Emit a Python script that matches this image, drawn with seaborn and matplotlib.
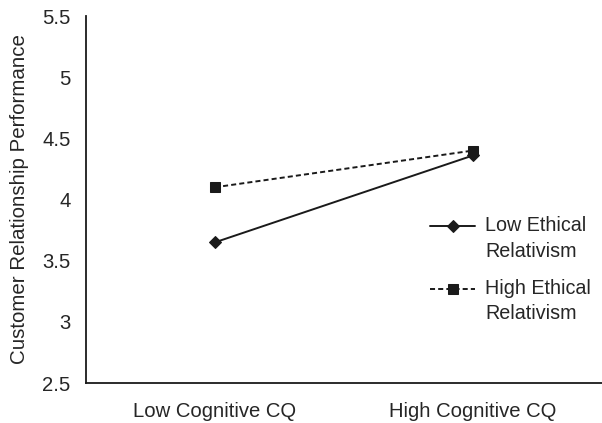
import matplotlib
matplotlib.use("Agg")
import matplotlib.pyplot as plt
from matplotlib.legend_handler import HandlerLine2D
import seaborn as sns
import pandas as pd

categories = ["Low Cognitive CQ", "High Cognitive CQ"]
series_names = ["Low Ethical\nRelativism", "High Ethical\nRelativism"]
low_ethical = [3.65, 4.36]
high_ethical = [4.10, 4.40]
y_ticks = [2.5, 3, 3.5, 4, 4.5, 5, 5.5]
y_tick_labels = ["2.5", "3", "3.5", "4", "4.5", "5", "5.5"]

sns.set_style("white")
plt.rcParams["font.family"] = ["Liberation Sans", "DejaVu Sans"]


class TopAlignedLine(HandlerLine2D):
    def __init__(self, offset_pt, **kw):
        super().__init__(**kw)
        self.offset_pt = offset_pt

    def create_artists(self, legend, orig_handle, xdescent, ydescent,
                       width, height, fontsize, trans):
        arts = super().create_artists(legend, orig_handle, xdescent, ydescent,
                                      width, height, fontsize, trans)
        for a in arts:
            a.set_ydata([y + self.offset_pt for y in a.get_ydata()])
        return arts


cat_pos = [0.5, 1.5]
rows = []
for name, vals in zip(series_names, [low_ethical, high_ethical]):
    for p, v in zip(cat_pos, vals):
        rows.append({"x": p, "y": v, "series": name})
df = pd.DataFrame(rows)

fig = plt.figure(figsize=(6.02, 4.23), dpi=100)
ax = fig.add_axes([86/602, 1-383/423, 1-86/602, (383-16)/423])

col = "#1a1a1a"
sns.lineplot(data=df, x="x", y="y", style="series", hue="series",
             palette={series_names[0]: col, series_names[1]: col},
             markers={series_names[0]: "D", series_names[1]: "s"},
             dashes={series_names[0]: "", series_names[1]: (2.6, 1.6)},
             markersize=6.5, linewidth=1.4, markeredgecolor=col, ax=ax)
for ln in ax.get_lines():
    if ln.get_marker() == "D":
        ln.set_markersize(6.2)
    elif ln.get_marker() == "s":
        ln.set_markersize(6.8)

ax.set_xlim(0, (602-86)/263)
ax.set_ylim(2.5, 5.5)
ax.set_xticks([0, 1, 2])
ax.set_xticklabels(["", "", ""])
ax.set_xticks(cat_pos, minor=True)
ax.set_xticklabels(categories, minor=True, fontsize=14.6)
ax.tick_params(axis="x", which="minor", length=0, pad=14)
ax.tick_params(axis="x", which="major", length=6, width=1.2, direction="out", color=col)
ax.set_yticks(y_ticks)
ax.set_yticklabels(y_tick_labels, fontsize=14.6)
ax.tick_params(axis="y", length=5, width=1.2, direction="out", color=col, pad=6)
ax.set_xlabel("")
ax.set_ylabel("Customer Relationship Performance", fontsize=14.8)
ax.yaxis.set_label_coords(-(86-29)/516, 0.5)
for s in ["top", "right"]:
    ax.spines[s].set_visible(False)
for s in ["left", "bottom"]:
    ax.spines[s].set_color(col)
    ax.spines[s].set_linewidth(1.3)

fs_leg = 14.2
h, l = ax.get_legend_handles_labels()
handler = TopAlignedLine(offset_pt=9.2)
ax.legend(h, l, loc="upper left", bbox_to_anchor=(430/602, 1-216/423),
          bbox_transform=fig.transFigure, frameon=False, fontsize=fs_leg,
          handlelength=2.3, handletextpad=0.5, labelspacing=0.9, borderpad=0,
          borderaxespad=0, handler_map={h[0]: handler, h[1]: handler})
for t in ax.get_legend().get_texts():
    t.set_linespacing(1.45)

fig.savefig("out.png", dpi=100)
